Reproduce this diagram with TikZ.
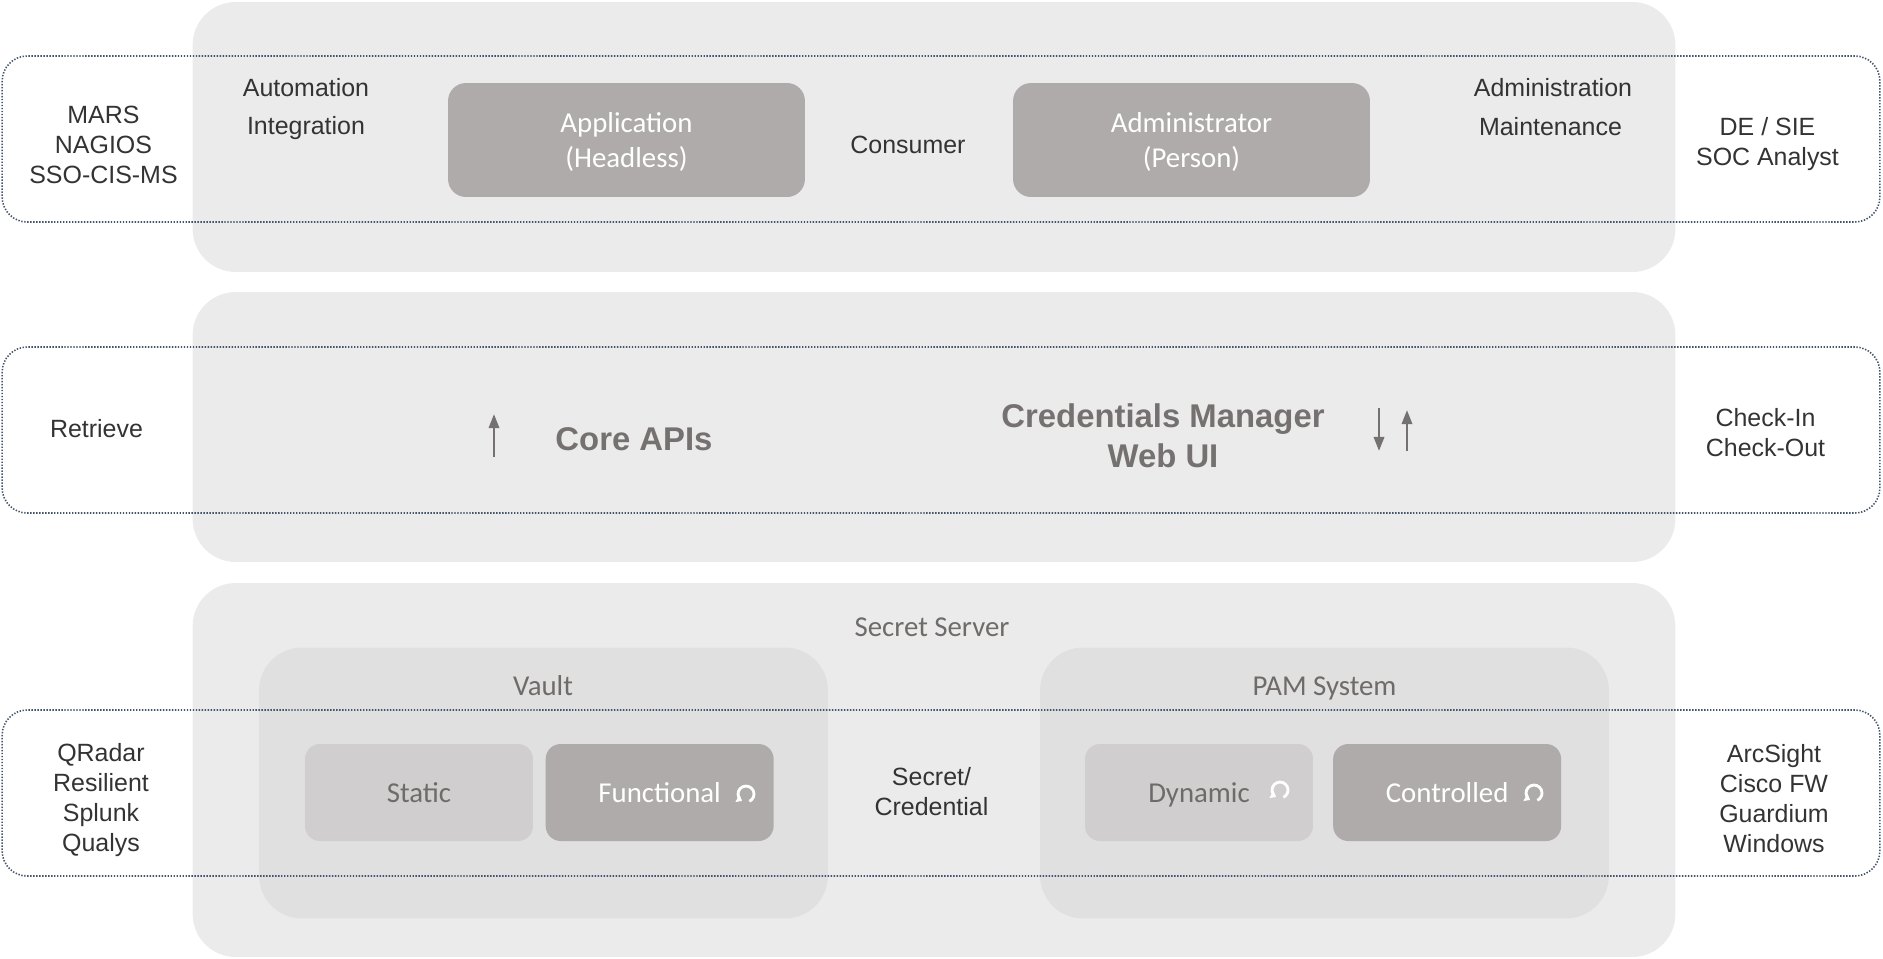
\documentclass[tikz,border=0pt]{standalone}
\usepackage{xcolor}
\usepackage{fontspec}
\setmainfont{Liberation Sans}
\newfontfamily\calfont{Carlito}
\usetikzlibrary{positioning,arrows.meta}
\definecolor{tierfill}{HTML}{EBEBEB}
\definecolor{groupfill}{HTML}{E0E0E0}
\definecolor{lightfill}{HTML}{D0CECE}
\definecolor{darkfill}{HTML}{AFABAA}
\definecolor{bandline}{HTML}{44546A}
\definecolor{labelgray}{HTML}{6F6B69}
\definecolor{boldgray}{HTML}{767171}
\definecolor{ink}{HTML}{333333}

\begin{document}
\begin{tikzpicture}[x=0.02cm, y=-0.02cm,
  tier/.style={fill=tierfill, rounded corners=0.86cm, minimum width=29.66cm, inner sep=0pt},
  group/.style={fill=groupfill, rounded corners=0.86cm, minimum width=11.38cm, minimum height=5.42cm, inner sep=0pt},
  band/.style={draw=bandline, line width=0.9pt, dash pattern=on 0.8pt off 0.9pt, rounded corners=0.5cm, minimum width=37.56cm, minimum height=3.32cm, inner sep=0pt},
  role/.style={fill=darkfill, rounded corners=0.36cm, minimum width=7.14cm, minimum height=2.28cm, inner sep=0pt},
  rolelbl/.style={align=center, text=white, inner sep=0pt, font=\calfont\fontsize{16.4}{20}\selectfont},
  lightbox/.style={fill=lightfill, rounded corners=0.3cm, minimum width=4.56cm, minimum height=1.94cm, inner sep=0pt, text height=11pt, text depth=0pt, text=labelgray, font=\calfont\fontsize{16.4}{20}\selectfont},
  darkbox/.style={lightbox, fill=darkfill, text=white},
  lbl/.style={align=center, text=ink, inner sep=0pt, font=\fontsize{14.2}{17}\selectfont},
  grouplbl/.style={text=labelgray, inner sep=0pt, text height=11pt, text depth=0pt, font=\calfont\fontsize{16.4}{20}\selectfont},
  apilbl/.style={align=center, text=boldgray, inner sep=0pt, font=\bfseries\fontsize{18.7}{22.8}\selectfont},
  flow/.style={draw=boldgray, line width=1.5pt, -{Triangle[length=8pt,width=5.8pt]}},
  loopicon/.pic={\draw[white, line width=1.6pt, -{Triangle[length=3pt,width=4.6pt]}] (3.4,7.3) arc[start angle=65, end angle=-240, radius=8];}]
\useasboundingbox (0,0) rectangle (1883,958);
% three tiers
\node[tier, minimum height=5.4cm] (tierTop) at (934,137) {};
\node[tier, minimum height=5.4cm] (tierMid) at (934,427) {};
\node[tier, minimum height=7.48cm] (tierLow) at (934,770) {};
\node[group] (vault) at (543.5,783) {};
\node[group] (pam) at (1324.5,783) {};
% dotted bands
\node[band] (bandTop) at (941,139) {};
\node[band] (bandMid) at (941,430) {};
\node[band] (bandLow) at (941,793) {};
% top tier: consumers
\node[role] (app) at (626.5,140) {};
\node[role] (admin) at (1191.5,140) {};
\node[rolelbl] (appText) at (626.5,142.4) {Application\\(Headless)};
\node[rolelbl] (adminText) at (1191.5,142.4) {Administrator\\(Person)};
\node[lbl] (consumer) at (908,144.5) {Consumer};
\node[lbl] (autom) at (306,88) {Automation};
\node[lbl] (integ) at (306,128.5) {Integration};
\node[lbl] (adminis) at (1553,88) {Administration};
\node[lbl] (maint) at (1550.5,127) {Maintenance};
\node[lbl] (monitors) at (103.5,145) {MARS\\NAGIOS\\SSO-CIS-MS};
\node[lbl] (analysts) at (1767.5,144.4) {DE / SIE\\SOC Analyst};
% middle tier: interfaces
\node[lbl] (retrieve) at (96.5,429) {Retrieve};
\node[apilbl] (core) at (634,439) {Core APIs};
\node[apilbl] (webui) at (1163,436) {Credentials Manager\\Web UI};
\node[lbl] (checks) at (1765.5,432.5) {Check-In\\Check-Out};
\coordinate (coreTail) at (494,457);
\coordinate (coreHead) at (494,414);
\coordinate (downTail) at (1379,408);
\coordinate (downHead) at (1379,451);
\coordinate (upTail) at (1407,451);
\coordinate (upHead) at (1407,410);
\draw[flow] (coreTail) -- (coreHead);
\draw[flow] (downTail) -- (downHead);
\draw[flow] (upTail) -- (upHead);
% bottom tier: secret server
\node[grouplbl] (server) at (932,627) {Secret Server};
\node[grouplbl] (vaultlbl) at (543,686) {Vault};
\node[grouplbl] (pamlbl) at (1324.5,686) {PAM System};
\node[lightbox] (static) at (419,792.5) {Static};
\node[darkbox,right=0.24cm of static] (func) {Functional};
\node[lightbox] (dyn) at (1199,792.5) {Dynamic};
\node[darkbox,right=0.39cm of dyn] (ctrl) {Controlled};
\pic at (746,794) {loopicon};
\pic at (1280,790) {loopicon};
\pic at (1534,793) {loopicon};
\node[lbl] (secret) at (931.5,791.5) {Secret/\\Credential};
\node[lbl] (sourcesL) at (101,800) {QRadar\\Resilient\\Splunk\\Qualys};
\node[lbl] (sourcesR) at (1774,798.5) {ArcSight\\Cisco FW\\Guardium\\Windows};
\end{tikzpicture}
\end{document}
